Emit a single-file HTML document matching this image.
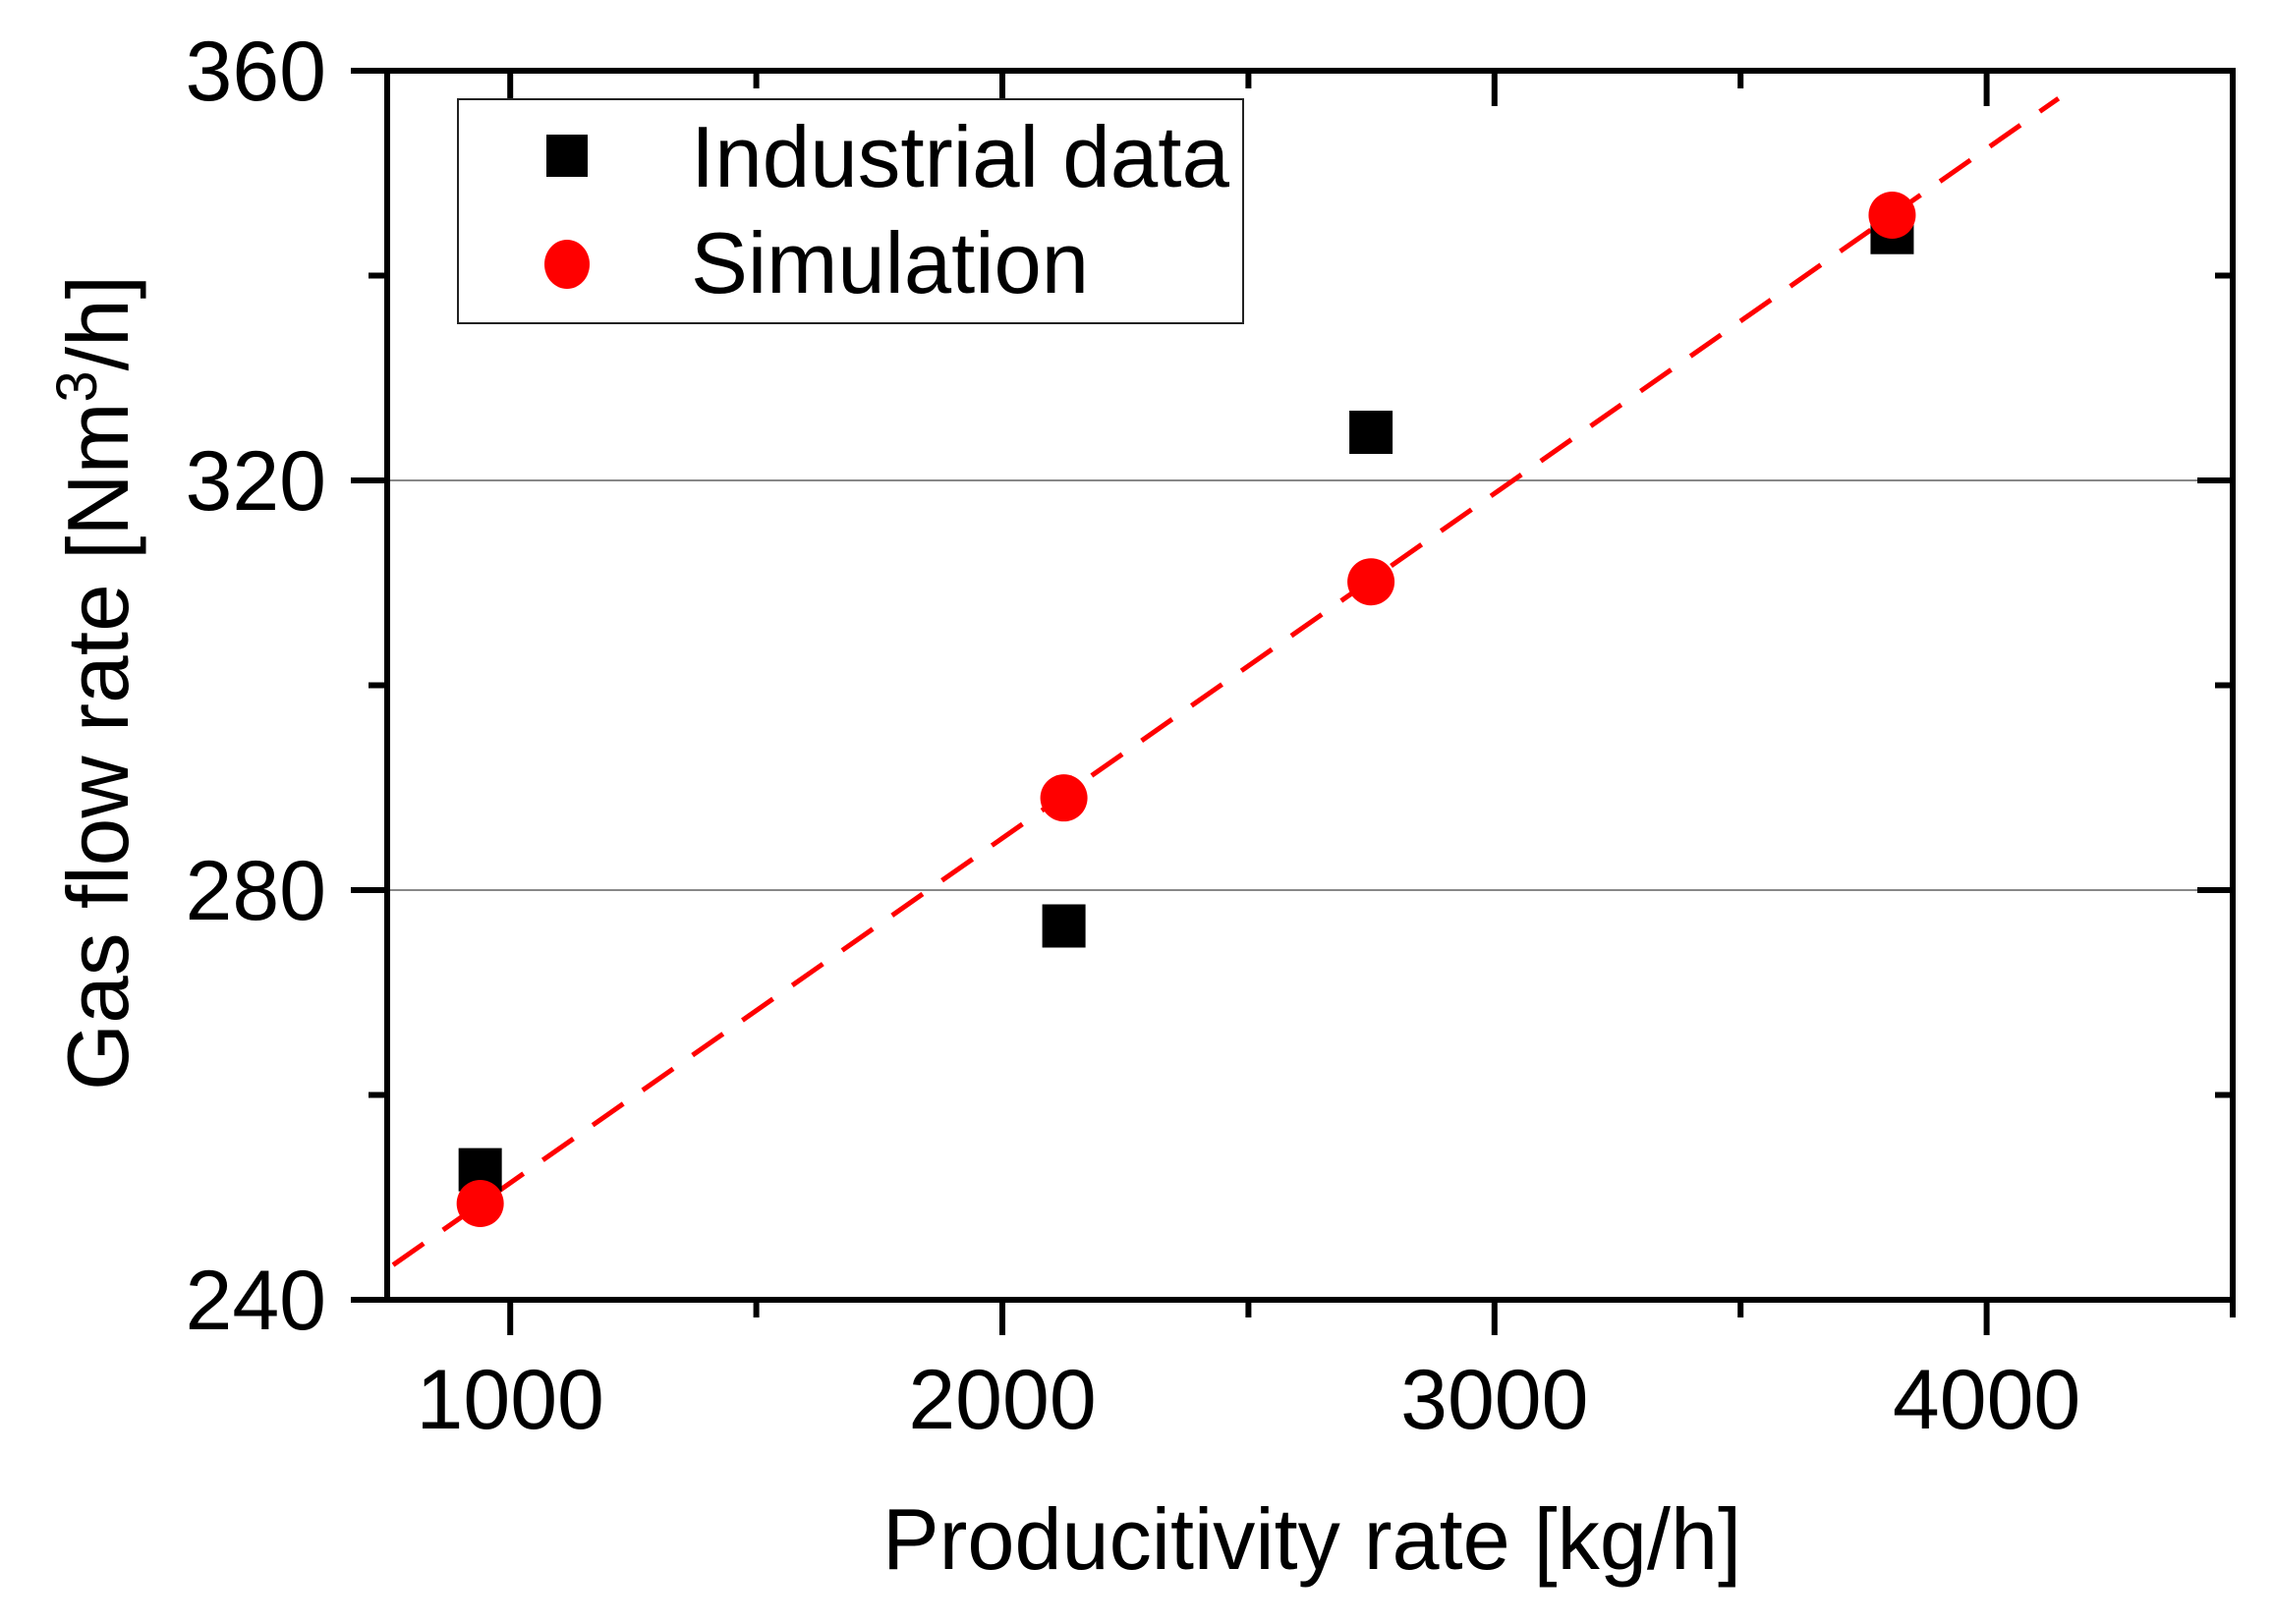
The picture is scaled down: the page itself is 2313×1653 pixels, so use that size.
<!DOCTYPE html>
<html><head><meta charset="utf-8"><style>
html,body{margin:0;padding:0;background:#fff}
svg{display:block}
text{font-family:"Liberation Sans",Arial,sans-serif;fill:#000}
</style></head><body>
<svg id="chart" width="2313" height="1653" viewBox="0 0 2313 1653" xmlns="http://www.w3.org/2000/svg">
<rect width="2313" height="1653" fill="#fff"/>
<g id="grid"></g>
<g id="fit"></g>
<g id="marks"></g>
<g id="axes"></g>
<text x="898" y="1597" font-size="88" textLength="874" lengthAdjust="spacingAndGlyphs">Producitivity rate [kg/h]</text>
<text transform="translate(130,1110) rotate(-90)" font-size="88" textLength="830" lengthAdjust="spacingAndGlyphs">Gas flow rate [Nm<tspan dy="-32" font-size="58">3</tspan><tspan dy="32">/h]</tspan></text>
<g>
<rect x="466" y="101" width="799" height="228" fill="#fff" stroke="#222" stroke-width="2"/>
<rect x="556" y="137" width="42" height="43" fill="#000"/>
<text x="703" y="190" font-size="88" textLength="548" lengthAdjust="spacingAndGlyphs">Industrial data</text>
<ellipse cx="577" cy="269" rx="23" ry="25" fill="#f00"/>
<text x="703" y="298" font-size="88" textLength="405" lengthAdjust="spacingAndGlyphs">Simulation</text>
</g>
</svg>
<script>
const xMin = 750, xMax = 4500, yMin = 240, yMax = 360;
const xTicks = [1000, 2000, 3000, 4000];
const xTickLabels = ["1000", "2000", "3000", "4000"];
const xMinorTicks = [1500, 2500, 3500, 4500];
const yTicks = [240, 280, 320, 360];
const yTickLabels = ["240", "280", "320", "360"];
const yMinorTicks = [260, 300, 340];
const gridValues = [280, 320];
const industrialX = [939, 2125, 2749, 3808];
const industrialY = [252.7, 276.5, 324.7, 344.2];
const simulationX = [939, 2125, 2749, 3808];
const simulationY = [249.4, 289.0, 310.1, 345.9];
const fitX = [762, 4146];
const fitY = [243.4, 357.3];

const L = 394, R = 2272, T = 72, B = 1323;
function xs(v){ return L + (v - xMin) / (xMax - xMin) * (R - L); }
function ys(v){ return B - (v - yMin) / (yMax - yMin) * (B - T); }
const NS = "http://www.w3.org/2000/svg";
function mk(tag, attrs, parent){
  const el = document.createElementNS(NS, tag);
  for (const k in attrs) el.setAttribute(k, attrs[k]);
  parent.appendChild(el);
  return el;
}
const grid = document.getElementById('grid');
const fit = document.getElementById('fit');
const marks = document.getElementById('marks');
const axes = document.getElementById('axes');

gridValues.forEach(v => {
  const g = mk('line', {x1: L, x2: R, y1: ys(v), y2: ys(v), stroke: '#888', 'stroke-width': 2}, grid);
  
  
});

const fl = mk('line', {x1: xs(fitX[0]), y1: ys(fitY[0]), x2: xs(fitX[1]), y2: ys(fitY[1]), stroke: '#f00', 'stroke-width': 5, 'stroke-dasharray': '38,24'}, fit);



industrialX.forEach((x, i) => {
  const s = mk('rect', {x: xs(x) - 22, y: ys(industrialY[i]) - 22, width: 44, height: 44, fill: '#000'}, marks);
  
  
});
simulationX.forEach((x, i) => {
  const c = mk('circle', {cx: xs(x), cy: ys(simulationY[i]), r: 24, fill: '#f00'}, marks);
  
  
});

const frame = mk('rect', {x: L, y: T, width: R - L, height: B - T, fill: 'none', stroke: '#000', 'stroke-width': 6}, axes);



xTicks.forEach((v, i) => {
  const x = xs(v);
  const t1 = mk('line', {x1: x, x2: x, y1: B, y2: B + 36, stroke: '#000', 'stroke-width': 6}, axes);
  
  
  const t2 = mk('line', {x1: x, x2: x, y1: T, y2: T + 36, stroke: '#000', 'stroke-width': 6}, axes);
  
  
  const lb = mk('text', {x: x, y: 1454, 'font-size': 86, 'text-anchor': 'middle'}, axes);
  lb.textContent = xTickLabels[i];
  
  
});
xMinorTicks.forEach(v => {
  const x = xs(v);
  const t1 = mk('line', {x1: x, x2: x, y1: B, y2: B + 18, stroke: '#000', 'stroke-width': 6}, axes);
  
  
  const t2 = mk('line', {x1: x, x2: x, y1: T, y2: T + 18, stroke: '#000', 'stroke-width': 6}, axes);
  
  
});
yTicks.forEach((v, i) => {
  const y = ys(v);
  const t1 = mk('line', {x1: L - 37, x2: L, y1: y, y2: y, stroke: '#000', 'stroke-width': 6}, axes);
  
  
  const t2 = mk('line', {x1: R - 36, x2: R, y1: y, y2: y, stroke: '#000', 'stroke-width': 6}, axes);
  
  
  const lb = mk('text', {x: 332, y: y + 30, 'font-size': 86, 'text-anchor': 'end'}, axes);
  lb.textContent = yTickLabels[i];
  
  
});
yMinorTicks.forEach(v => {
  const y = ys(v);
  const t1 = mk('line', {x1: L - 19, x2: L, y1: y, y2: y, stroke: '#000', 'stroke-width': 6}, axes);
  
  
  const t2 = mk('line', {x1: R - 18, x2: R, y1: y, y2: y, stroke: '#000', 'stroke-width': 6}, axes);
  
  
});
</script>
</body></html>
